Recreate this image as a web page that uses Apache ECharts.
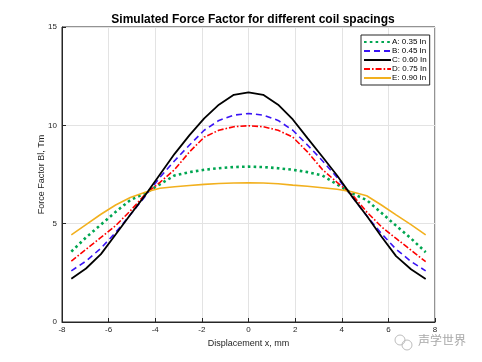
<!DOCTYPE html>
<html><head><meta charset="utf-8">
<script src="https://cdn.jsdelivr.net/npm/echarts@6/dist/echarts.min.js"></script>
<style>html,body{margin:0;padding:0;background:#fff}#c{width:482px;height:362px}</style>
</head><body><div id="c"></div>
<script>
const xs = [-7.6,-6.97,-6.33,-5.7,-5.07,-4.43,-3.8,-3.17,-2.53,-1.9,-1.27,-0.63,0,0.63,1.27,1.9,2.53,3.17,3.8,4.43,5.07,5.7,6.33,6.97,7.6];
const seriesNames = ['A: 0.35 In','B: 0.45 In','C: 0.60 In','D: 0.75 In','E: 0.90 In'];
const valsA = [3.58,4.3,4.95,5.6,6.2,6.55,7.0,7.45,7.62,7.74,7.82,7.88,7.9,7.88,7.82,7.74,7.62,7.45,7.0,6.55,6.2,5.55,4.9,4.25,3.55];
const valsB = [2.6,3.1,3.75,4.55,5.45,6.4,7.35,8.2,9.0,9.75,10.25,10.52,10.6,10.52,10.25,9.75,9.0,8.2,7.35,6.4,5.4,4.5,3.7,3.08,2.6];
const valsC = [2.2,2.72,3.45,4.45,5.45,6.45,7.5,8.55,9.5,10.35,11.05,11.55,11.68,11.55,11.05,10.3,9.35,8.4,7.45,6.4,5.4,4.35,3.35,2.68,2.19];
const valsD = [3.1,3.7,4.3,4.9,5.65,6.5,7.1,7.75,8.65,9.4,9.75,9.93,9.98,9.93,9.75,9.4,8.65,7.75,7.1,6.5,5.6,4.85,4.25,3.65,3.07];
const valsE = [4.43,4.95,5.48,5.95,6.33,6.6,6.8,6.88,6.94,7.0,7.04,7.07,7.08,7.07,7.03,6.96,6.9,6.83,6.75,6.62,6.42,5.95,5.45,4.95,4.43];
const xTicks = ['-8','-6','-4','-2','0','2','4','6','8'];
const yTicks = ['0','5','10','15'];

const allVals = [valsA, valsB, valsC, valsD, valsE];
const colors = ['#00a651','#3a14f5','#000000','#ff0000','#f2b01e'];
const styles = [
  {width:2.6, type:[2.6,3.2], cap:'butt'},
  {width:1.6, type:[6,4]},
  {width:1.8, type:'solid'},
  {width:1.6, type:[6,2,1.6,2]},
  {width:1.6, type:'solid'}
];
const series = allVals.map((v,i)=>({
  name: seriesNames[i], type:'line', showSymbol:false, symbol:'none',
  data: xs.map((x,j)=>[x, v[j]]),
  lineStyle: Object.assign({color: colors[i]}, styles[i]),
  itemStyle:{color: colors[i]},
  animation:false, z: i===2 ? 5 : 3
}));

const chart = echarts.init(document.getElementById('c'));
chart.setOption({
  backgroundColor:'#fff',
  animation:false,
  title:{text:'Simulated Force Factor for different coil spacings', left:248, top:9, textAlign:'center',
    textStyle:{fontFamily:'Liberation Sans', fontSize:12, fontWeight:'bold', color:'#000'}},
  grid:{left:62, right:47, top:27, bottom:40, show:true, borderColor:'#262626', borderWidth:1},
  legend:{orient:'vertical', left:361, top:35, itemWidth:27, itemHeight:8, itemGap:1,
    padding:[3,3,3,2], borderColor:'#262626', borderWidth:1, backgroundColor:'#fff',
    itemStyle:{opacity:0},
    textStyle:{fontFamily:'Liberation Sans', fontSize:8, color:'#000', padding:[0,0,0,-4]},
    data: seriesNames},
  xAxis:{type:'value', min:-8, max:8, interval:2,
    name:'Displacement x, mm', nameLocation:'middle', nameGap:14,
    nameTextStyle:{fontFamily:'Liberation Sans', fontSize:9, color:'#262626'},
    axisLine:{show:true, onZero:false, lineStyle:{color:'#262626'}},
    axisTick:{show:true, inside:true, length:4, lineStyle:{color:'#262626'}},
    axisLabel:{fontFamily:'Liberation Sans', fontSize:8, color:'#262626', margin:4,
      formatter:v=>xTicks[Math.round((v+8)/2)]},
    splitLine:{show:true, lineStyle:{color:'#e3e3e3'}}},
  yAxis:{type:'value', min:0, max:15, interval:5,
    name:'Force Factor Bl, Tm', nameLocation:'middle', nameGap:16, nameRotate:90, nameMoveOverlap:false,
    nameTextStyle:{fontFamily:'Liberation Sans', fontSize:9, color:'#262626'},
    axisLine:{show:true, onZero:false, lineStyle:{color:'#262626'}},
    axisTick:{show:true, inside:true, length:4, lineStyle:{color:'#262626'}},
    axisLabel:{fontFamily:'Liberation Sans', fontSize:8, color:'#262626', margin:5,
      formatter:v=>yTicks[Math.round(v/5)]},
    splitLine:{show:true, lineStyle:{color:'#e3e3e3'}}},
  graphic:[
    {type:'text', left:418, top:334, style:{text:'声学世界', font:'12px "Noto Sans CJK SC"', fill:'#a8a8a8'}},
    {type:'circle', shape:{cx:400, cy:340, r:5}, style:{fill:'none', stroke:'#bdbdbd', lineWidth:1}},
    {type:'circle', shape:{cx:407, cy:345, r:5}, style:{fill:'none', stroke:'#bdbdbd', lineWidth:1}}
  ],
  series: series
});
</script></body></html>
